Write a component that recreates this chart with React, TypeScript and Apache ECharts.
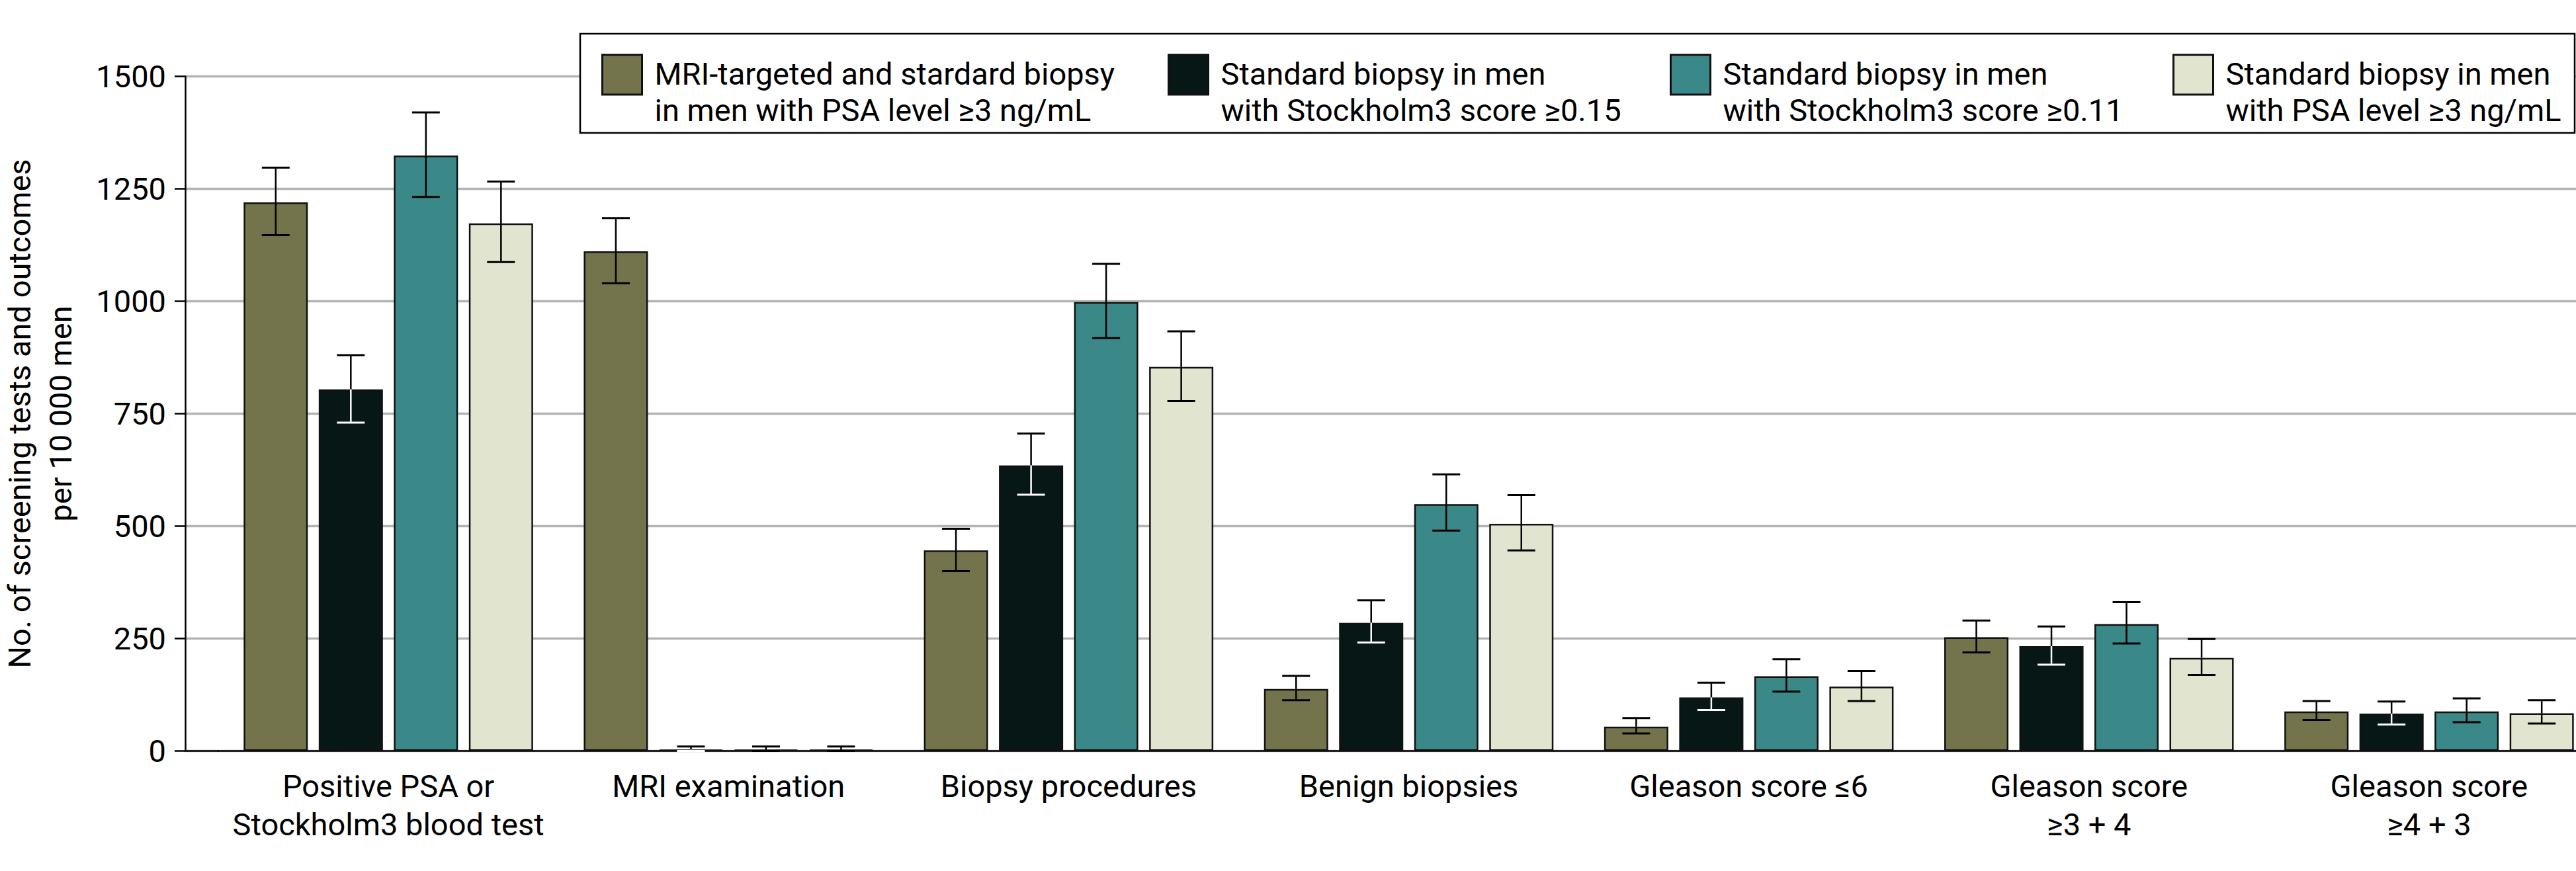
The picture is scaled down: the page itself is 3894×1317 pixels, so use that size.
import React, { useEffect, useRef } from "react";
import * as echarts from "echarts";

const categories = [
  "Positive PSA or\nStockholm3 blood test",
  "MRI examination",
  "Biopsy procedures",
  "Benign biopsies",
  "Gleason score ≤6",
  "Gleason score\n≥3 + 4",
  "Gleason score\n≥4 + 3",
];

const seriesNames = [
  "MRI-targeted and stardard biopsy\nin men with PSA level ≥3 ng/mL",
  "Standard biopsy in men\nwith Stockholm3 score ≥0.15",
  "Standard biopsy in men\nwith Stockholm3 score ≥0.11",
  "Standard biopsy in men\nwith PSA level ≥3 ng/mL",
];

const mriValues = [1220, 1111, 446, 138, 54, 253, 88];
const mriLow = [1147, 1040, 400, 113, 39, 219, 69];
const mriHigh = [1297, 1185, 494, 167, 73, 290, 111];

const sthlm15Values = [804, 3, 635, 285, 119, 233, 83];
const sthlm15Low = [730, 0, 570, 241, 91, 192, 59];
const sthlm15High = [880, 10, 706, 335, 152, 277, 110];

const sthlm11Values = [1324, 3, 998, 549, 166, 282, 88];
const sthlm11Low = [1232, 0, 918, 490, 132, 239, 64];
const sthlm11High = [1420, 10, 1083, 615, 204, 331, 117];

const psaValues = [1173, 3, 854, 505, 143, 207, 84];
const psaLow = [1087, 0, 778, 446, 111, 169, 61];
const psaHigh = [1266, 10, 933, 569, 178, 249, 113];

const yTicks = [0, 250, 500, 750, 1000, 1250, 1500];

const yAxisTitleLines = ["No. of screening tests and outcomes", "per 10 000 men"];

const COLORS = ["#73734C", "#071716", "#3A8887", "#E1E4CF"];
const FONT = 'Roboto, "Noto Sans", sans-serif';
const CAT_GAP = 0.149;
const BAR_GAP = 0.17;

export default function App() {
  const ref = useRef<HTMLDivElement>(null);

  useEffect(() => {
    if (!ref.current) return;
    const chart = echarts.init(ref.current, null, { renderer: "svg" });

    const values = [mriValues, sthlm15Values, sthlm11Values, psaValues];
    const lows = [mriLow, sthlm15Low, sthlm11Low, psaLow];
    const highs = [mriHigh, sthlm15High, sthlm11High, psaHigh];

    const errData: number[][] = [];
    values.forEach((vals, si) => {
      vals.forEach((v, ci) => {
        errData.push([ci, lows[si][ci], highs[si][ci], v, si]);
      });
    });

    const yMin = yTicks[0];
    const yMax = yTicks[yTicks.length - 1];
    const yInterval = yTicks[1] - yTicks[0];

    const legendX = [909, 1765, 2524, 3284];

    const option: any = {
      animation: false,
      backgroundColor: "#fff",
      textStyle: { fontFamily: FONT },
      grid: [
        { left: 330, width: 3599, top: 115.5, height: 1020, containLabel: false, outerBoundsMode: "none" },
        { left: 280, width: 50, top: 115.5, height: 1020, containLabel: false, outerBoundsMode: "none" },
      ],
      xAxis: [
        {
          type: "category",
          gridIndex: 0,
          data: categories,
          axisLine: { show: true, lineStyle: { color: "#000", width: 2.5 } },
          axisTick: { show: false },
          axisLabel: {
            interval: 0,
            margin: 24,
            color: "#000",
            fontSize: 47,
            lineHeight: 58,
            fontFamily: FONT,
          },
          splitLine: { show: false },
        },
        {
          type: "category",
          gridIndex: 1,
          data: [""],
          axisLine: { show: true, lineStyle: { color: "#000", width: 2.5 } },
          axisTick: { show: false },
          axisLabel: { show: false },
          splitLine: { show: false },
        },
      ],
      yAxis: [
        {
          type: "value",
          gridIndex: 0,
          min: yMin,
          max: yMax,
          interval: yInterval,
          offset: 50,
          name: yAxisTitleLines.map((l) => "{n|" + l + "}").join("\n"),
          nameLocation: "middle",
          nameRotate: 90,
          nameGap: 158,
          nameTextStyle: {
            fontSize: 47,
            lineHeight: 62,
            color: "#000",
            fontFamily: FONT,
            rich: {
              n: { fontSize: 47, lineHeight: 62, color: "#000", fontFamily: FONT },
            },
          },
          axisLine: { show: true, lineStyle: { color: "#000", width: 2.5 } },
          axisTick: { show: true, length: 16, lineStyle: { color: "#000", width: 2.5 } },
          axisLabel: {
            margin: 29,
            color: "#000",
            fontSize: 47,
            fontFamily: FONT,
            formatter: (v: number) => String(v),
          },
          splitLine: { show: true, lineStyle: { color: "#b3b3b3", width: 3.3 } },
        },
        {
          type: "value",
          gridIndex: 1,
          min: yMin,
          max: yMax,
          interval: yInterval,
          axisLine: { show: false },
          axisTick: { show: false },
          axisLabel: { show: false },
          splitLine: { show: true, lineStyle: { color: "#b3b3b3", width: 3.3 } },
        },
      ],
      legend: seriesNames.map((name, i) => ({
        data: [name],
        left: legendX[i],
        top: 32,
        padding: 0,
        orient: "horizontal",
        itemWidth: 60,
        itemHeight: 60,
        icon: "rect",
        selectedMode: false,
        z: 20,
        itemStyle: { color: COLORS[i], borderColor: "#111", borderWidth: 3 },
        formatter: (n: string) =>
          "{g| }\n" +
          n
            .split("\n")
            .map((l) => "{t|" + l + "}")
            .join("\n"),
        textStyle: {
          fontSize: 47,
          lineHeight: 55,
          color: "#000",
          fontFamily: FONT,
          rich: {
            g: { fontSize: 10, lineHeight: 52, height: 52 },
            t: {
              fontSize: 47,
              lineHeight: 55,
              color: "#000",
              fontFamily: FONT,
              padding: [0, 0, 0, 14],
            },
          },
        },
      })),
      graphic: [
        {
          type: "rect",
          z: 10,
          shape: { x: 877, y: 51, width: 3015, height: 150 },
          style: { fill: "#fff", stroke: "#000", lineWidth: 2.5 },
        },
      ],
      series: [
        ...seriesNames.map((name, i) => ({
          type: "bar",
          name,
          xAxisIndex: 0,
          yAxisIndex: 0,
          data: values[i],
          barCategoryGap: (CAT_GAP * 100).toFixed(1) + "%",
          barGap: BAR_GAP * 100 + "%",
          itemStyle: { color: COLORS[i], borderColor: "#111", borderWidth: 2.5 },
          emphasis: { disabled: true },
        })),
        {
          type: "custom",
          name: "errors",
          xAxisIndex: 0,
          yAxisIndex: 0,
          z: 5,
          data: errData,
          encode: { x: 0, y: [1, 2] },
          renderItem: (params: any, api: any) => {
            const ci = api.value(0);
            const lo = api.value(1);
            const hi = api.value(2);
            const v = api.value(3);
            const si = api.value(4);
            const band = api.size([1, 0])[0];
            const w = (band * (1 - CAT_GAP)) / (4 + 3 * BAR_GAP);
            const total = 4 * w + 3 * w * BAR_GAP;
            const c = api.coord([ci, 0])[0];
            const x = c - total / 2 + si * w * (1 + BAR_GAP) + w / 2;
            const yHi = api.coord([ci, hi])[1];
            const yLo = api.coord([ci, lo])[1];
            const yV = api.coord([ci, v])[1];
            const inner = si === 1 ? "#fff" : "#000";
            const cap = 21;
            const lw = 2.5;
            return {
              type: "group",
              children: [
                {
                  type: "line",
                  shape: { x1: x, y1: yHi, x2: x, y2: yV },
                  style: { stroke: "#000", lineWidth: lw },
                },
                {
                  type: "line",
                  shape: { x1: x, y1: yV, x2: x, y2: yLo },
                  style: { stroke: inner, lineWidth: lw },
                },
                {
                  type: "line",
                  shape: { x1: x - cap, y1: yHi, x2: x + cap, y2: yHi },
                  style: { stroke: "#000", lineWidth: lw + 0.5 },
                },
                {
                  type: "line",
                  shape: { x1: x - cap, y1: yLo, x2: x + cap, y2: yLo },
                  style: { stroke: inner, lineWidth: lw + 0.5 },
                },
              ],
            };
          },
        },
      ],
    };

    chart.setOption(option);
    return () => {
      chart.dispose();
    };
  }, []);

  return (
    <div
      ref={ref}
      style={{ position: "fixed", left: 0, top: 0, width: "3894px", height: "1317px", background: "#fff" }}
    />
  );
}
